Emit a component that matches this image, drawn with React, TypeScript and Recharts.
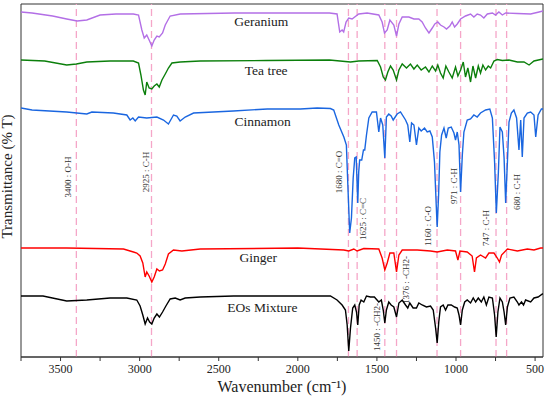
import React from 'react';
import {
    LineChart,
    Line,
    XAxis,
    YAxis,
    ReferenceLine,
    ReferenceArea,
    ReferenceDot,
} from 'recharts';

// spectra: [wavenumber (cm-1), offset transmittance (a.u.)]
const geranium: [number, number][] = [
    [3750, 345], [3680, 344], [3550, 341], [3461, 338], [3395, 336], [3334, 337], [3250, 342],
    [3150, 343], [3040, 343], [3007, 342], [2986, 327], [2971, 319], [2955, 322], [2940, 317],
    [2923, 311], [2908, 317], [2891, 321], [2876, 320], [2855, 324], [2838, 332], [2807, 341],
    [2743, 343], [2400, 344], [2000, 344], [1800, 344], [1752, 343], [1735, 325], [1720, 327],
    [1710, 325], [1695, 335], [1678, 339], [1657, 338], [1615, 343], [1562, 344], [1488, 342],
    [1467, 335], [1452, 324], [1435, 327], [1418, 337], [1393, 332], [1376, 321], [1361, 333],
    [1340, 340], [1298, 340], [1266, 338], [1235, 338], [1214, 335], [1193, 329], [1171, 324],
    [1150, 329], [1134, 333], [1115, 335], [1098, 332], [1076, 330], [1060, 328], [1039, 331],
    [1024, 335], [1009, 330], [992, 333], [971, 338], [940, 341], [908, 343], [887, 340],
    [866, 343], [845, 342], [824, 339], [802, 343], [770, 344], [750, 342], [729, 345],
    [707, 342], [686, 344], [612, 343.5], [528, 343], [475, 345], [450, 346],
];

const teaTree: [number, number][] = [
    [3750, 297], [3600, 296], [3461, 292], [3400, 293], [3334, 295], [3187, 296], [3040, 296],
    [3007, 294], [2992, 282], [2976, 267], [2965, 262], [2955, 275], [2940, 269], [2923, 268],
    [2908, 271], [2891, 273], [2876, 270], [2859, 277], [2838, 283], [2818, 289], [2796, 294],
    [2744, 295], [2617, 296], [2200, 296.5], [1800, 297], [1667, 295], [1615, 296], [1498, 296.5],
    [1477, 290], [1460, 280], [1446, 277], [1431, 285], [1414, 291], [1397, 287], [1376, 277],
    [1361, 287], [1340, 293], [1313, 289], [1288, 293], [1266, 288], [1245, 292], [1220, 287],
    [1193, 290], [1171, 285], [1150, 291], [1129, 286], [1115, 292], [1098, 284], [1081, 279],
    [1064, 291], [1045, 285], [1024, 279], [1003, 290], [988, 281], [971, 287], [954, 295],
    [940, 280], [925, 289], [908, 275], [893, 291], [876, 279], [859, 291], [845, 284],
    [830, 292], [813, 287], [796, 291], [781, 289], [760, 296], [739, 297.5], [707, 296.5],
    [665, 297], [612, 295], [570, 295], [538, 292], [507, 296], [465, 297.5], [450, 298],
];

const cinnamon: [number, number][] = [
    [3750, 249], [3680, 247], [3461, 245], [3334, 243], [3302, 245], [3166, 244], [3081, 242],
    [3060, 237], [3043, 239], [3028, 236], [3007, 240], [2955, 239], [2891, 240], [2849, 237],
    [2818, 233], [2786, 242], [2765, 241], [2744, 236], [2712, 240], [2659, 244], [2533, 245],
    [2408, 246], [2193, 248], [1984, 248], [1878, 249], [1794, 248.5], [1773, 247], [1741, 232],
    [1709, 220], [1693, 212], [1683, 169], [1672, 124], [1661, 139], [1650, 179], [1640, 199],
    [1631, 200], [1621, 154], [1615, 185], [1609, 197], [1596, 197], [1585, 207], [1577, 207],
    [1566, 222], [1551, 239], [1530, 245], [1503, 245], [1488, 225], [1477, 239], [1463, 232],
    [1450, 199], [1440, 240], [1425, 243], [1410, 241], [1397, 237], [1372, 243], [1351, 245],
    [1319, 237], [1305, 232], [1292, 215], [1281, 234], [1266, 232], [1250, 212], [1235, 229],
    [1220, 226], [1199, 229], [1182, 225], [1165, 226], [1150, 220], [1136, 195], [1125, 152],
    [1119, 130], [1110, 162], [1102, 205], [1091, 222], [1076, 229], [1062, 219], [1049, 229],
    [1030, 230], [1013, 224], [1003, 217], [992, 225], [981, 212], [971, 165], [960, 202],
    [950, 225], [929, 237], [908, 238], [887, 242], [866, 240], [845, 244], [813, 247],
    [786, 248], [770, 239], [756, 195], [745, 144], [732, 185], [722, 230], [707, 225],
    [696, 199], [686, 154], [675, 195], [665, 235], [650, 244], [634, 247], [617, 239],
    [602, 207], [591, 237], [581, 200], [570, 239], [549, 244], [528, 245], [507, 242],
    [496, 220], [481, 242], [460, 248], [450, 248],
];

const ginger: [number, number][] = [
    [3750, 109], [3461, 109], [3102, 108], [3039, 105], [3018, 104], [2997, 101], [2980, 94],
    [2965, 80], [2955, 85], [2940, 81], [2923, 75], [2908, 80], [2891, 88], [2875, 86],
    [2855, 87], [2838, 93], [2818, 103], [2786, 107], [2733, 106], [2617, 108], [2000, 109],
    [1709, 107], [1678, 106], [1646, 108], [1625, 106], [1583, 108.5], [1488, 108], [1467, 99],
    [1450, 87], [1435, 94], [1418, 104], [1393, 104], [1376, 85], [1361, 102], [1340, 107],
    [1245, 107], [1161, 106], [1119, 105], [1055, 107], [1003, 106], [988, 97], [975, 106],
    [929, 105], [898, 101], [883, 85], [871, 99], [845, 102], [813, 99], [792, 104],
    [760, 104], [739, 99], [725, 95], [712, 102], [675, 108], [612, 106], [549, 108],
    [507, 107], [465, 109], [450, 109],
];

const eosMixture: [number, number][] = [
    [3750, 61], [3611, 61], [3461, 56], [3334, 57], [3187, 59], [3081, 59], [3018, 57],
    [2997, 51], [2980, 42], [2965, 33], [2950, 39], [2937, 35], [2923, 33], [2908, 39],
    [2891, 43], [2875, 40], [2855, 45], [2834, 51], [2807, 58], [2775, 59], [2744, 57],
    [2712, 59], [2617, 60], [2406, 61], [1984, 61], [1794, 61], [1752, 57], [1720, 52],
    [1699, 47], [1688, 32], [1678, 6], [1667, 29], [1653, 49], [1640, 52], [1629, 45],
    [1621, 32], [1612, 52], [1600, 57], [1583, 55], [1566, 61], [1541, 60], [1516, 60],
    [1488, 55], [1472, 57], [1460, 47], [1450, 34], [1440, 47], [1425, 55], [1410, 52],
    [1393, 50], [1376, 40], [1361, 54], [1340, 57], [1319, 52], [1305, 49], [1292, 54],
    [1271, 49], [1250, 49], [1235, 54], [1214, 52], [1187, 50], [1161, 51], [1144, 47],
    [1129, 29], [1119, 14], [1109, 35], [1098, 50], [1081, 52], [1066, 47], [1051, 52],
    [1030, 52], [1009, 50], [992, 49], [981, 42], [971, 32], [960, 47], [945, 55],
    [929, 57], [908, 54], [891, 59], [876, 55], [859, 59], [840, 55], [824, 60],
    [808, 52], [792, 60], [770, 59], [756, 42], [746, 20], [735, 45], [722, 59],
    [707, 55], [696, 45], [686, 32], [675, 50], [659, 59], [634, 60], [612, 55],
    [602, 52], [586, 55], [573, 52], [560, 57], [528, 55], [507, 59], [481, 60],
    [454, 63], [450, 63],
];

const seriesNames = ['Geranium', 'Tea tree', 'Cinnamon', 'Ginger', 'EOs Mixture'];
const seriesData = [geranium, teaTree, cinnamon, ginger, eosMixture];
const seriesColors = ['#b36fe6', '#0b7f0b', '#1a66e0', '#ff0000', '#000000'];
// where each name sits: [wavenumber, value]
const nameAnchors: [number, number][] = [
    [2231, 336], [2200, 287], [2222, 236], [2250, 100], [2224, 50],
];

const bandPositions = [3400, 2925, 1680, 1625, 1450, 1376, 1120, 971, 747, 680];
const bandLabels = [
    '3400 : O-H', '2925 : C-H', '1680 : C=O', '1625 : C=C', '1450 : -CH2-',
    '1376 : -CH2-', '1160 : C-O', '971 : C-H', '747 : C-H', '680 : C-H',
];
const bandLabelLevels = [180, 185, 185, 138, 30, 77, 131, 171, 129, 165];
const bandLabelDx = [-8, -6, -9, 6, -8, 9, -9, -7, -10, 10];

const wavenumberTicks = [3750, 3500, 3250, 3000, 2750, 2500, 2250, 2000, 1750, 1500, 1250, 1000, 750, 500];

const Y_MAX = 353;
const FONT = '"Liberation Serif", "Times New Roman", serif';

function bandLabel(text: string, level: number, dx: number) {
    return (props: any) => {
        const vb = props.viewBox || {};
        const x = vb.x + dx;
        const y = vb.y + (vb.height * (Y_MAX - level)) / Y_MAX;
        return (
            <text
                x={x}
                y={y}
                transform={`rotate(-90, ${x}, ${y})`}
                textAnchor="middle"
                dominantBaseline="central"
                fontSize={9}
                fontFamily={FONT}
                fill="#333"
            >
                {text}
            </text>
        );
    };
}

export default function App() {
    return (
        <div style={{ position: 'absolute', left: 0, top: 0, width: 550, height: 396, background: '#fff' }}>
            <LineChart width={550} height={396} margin={{ top: 4, right: 7, bottom: 0, left: 0 }}>
                <XAxis
                    type="number"
                    dataKey="w"
                    domain={[450, 3750]}
                    reversed
                    allowDataOverflow
                    ticks={wavenumberTicks}
                    interval={0}
                    tickFormatter={(v: number) => (v % 500 === 0 ? String(v) : '')}
                    tickSize={4}
                    tickMargin={3}
                    height={39}
                    axisLine={{ stroke: '#333' }}
                    tickLine={{ stroke: '#333' }}
                    tick={{ fill: '#222', fontSize: 12, fontFamily: FONT }}
                    label={{
                        value: 'Wavenumber (cm⁻¹)',
                        position: 'insideBottom',
                        offset: 4,
                        fill: '#222',
                        fontSize: 16,
                        fontFamily: FONT,
                    }}
                />
                <YAxis
                    type="number"
                    domain={[0, Y_MAX]}
                    width={21}
                    tick={false}
                    tickLine={false}
                    axisLine={false}
                    label={{
                        content: (props: any) => {
                            const vb = props.viewBox || {};
                            const x = 7;
                            const y = vb.y + vb.height / 2 - 4;
                            return (
                                <text
                                    x={x}
                                    y={y}
                                    transform={`rotate(-90, ${x}, ${y})`}
                                    textAnchor="middle"
                                    dominantBaseline="central"
                                    fontSize={15}
                                    fontFamily={FONT}
                                    fill="#222"
                                >
                                    Transmittance (% T)
                                </text>
                            );
                        },
                    }}
                />
                <ReferenceArea x1={3750} x2={450} y1={0} y2={Y_MAX} fill="none" stroke="#333" strokeWidth={1} />
                {bandPositions.map((b, i) => (
                    <ReferenceLine
                        key={b}
                        x={b}
                        stroke="#f5a6c8"
                        strokeWidth={1.3}
                        strokeDasharray="7 4"
                        label={bandLabel(bandLabels[i], bandLabelLevels[i], bandLabelDx[i])}
                    />
                ))}
                {seriesData.map((d, i) => (
                    <Line
                        key={seriesNames[i]}
                        name={seriesNames[i]}
                        data={d.map(([w, t]) => ({ w, t }))}
                        dataKey="t"
                        type="linear"
                        stroke={seriesColors[i]}
                        strokeWidth={1.4}
                        dot={false}
                        isAnimationActive={false}
                    />
                ))}
                {nameAnchors.map(([w, t], i) => (
                    <ReferenceDot
                        key={'n' + i}
                        x={w}
                        y={t}
                        r={0}
                        fill="none"
                        stroke="none"
                        label={{
                            value: seriesNames[i],
                            position: 'center',
                            fill: '#222',
                            fontSize: 13.5,
                            fontFamily: FONT,
                        }}
                    />
                ))}
            </LineChart>
        </div>
    );
}
